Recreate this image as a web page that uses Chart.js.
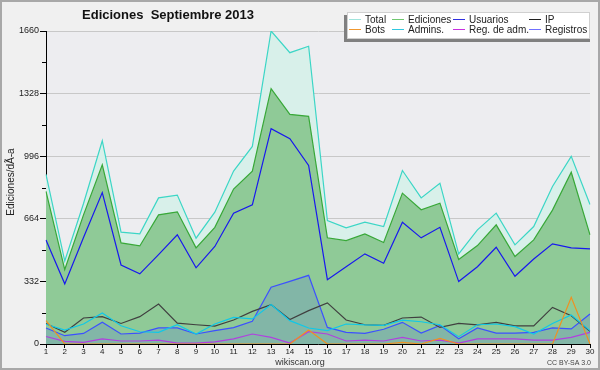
<!DOCTYPE html>
<html>
<head>
<meta charset="utf-8">
<script src="https://cdn.jsdelivr.net/npm/chart.js@4/dist/chart.umd.min.js"></script>
<style>html,body{margin:0;padding:0;background:#f0f0f0;}canvas{display:block;}</style>
</head>
<body>
<canvas id="c" width="600" height="370"></canvas>
<script>
const days = ['1','2','3','4','5','6','7','8','9','10','11','12','13','14','15','16','17','18','19','20','21','22','23','24','25','26','27','28','29','30'];
const total = [900, 440, 745, 1078, 593, 584, 775, 790, 561, 699, 917, 1048, 1660, 1545, 1579, 655, 616, 646, 623, 920, 775, 853, 478, 605, 694, 526, 623, 835, 995, 740];
const ediciones = [810, 395, 685, 950, 536, 520, 685, 701, 510, 619, 822, 917, 1354, 1218, 1207, 563, 548, 584, 538, 800, 712, 747, 448, 522, 632, 464, 552, 710, 911, 579];
const usuarios = [552, 319, 565, 803, 419, 372, 474, 579, 404, 517, 694, 738, 1142, 1089, 947, 341, 410, 478, 428, 646, 563, 619, 331, 410, 513, 359, 451, 531, 510, 504];
const ip = [109, 62, 138, 145, 109, 145, 212, 111, 102, 95, 127, 173, 209, 130, 177, 218, 127, 102, 99, 138, 143, 88, 109, 101, 115, 96, 96, 194, 150, 67];
const admins = [105, 74, 106, 165, 97, 65, 62, 102, 53, 106, 141, 133, 209, 124, 85, 71, 106, 101, 99, 127, 118, 102, 39, 102, 106, 92, 53, 109, 154, 71];
const registros = [85, 44, 56, 115, 53, 58, 85, 85, 53, 71, 87, 120, 301, 332, 364, 88, 62, 56, 78, 115, 58, 99, 28, 85, 58, 58, 62, 85, 80, 159];
const regadm = [40, 14, 9, 27, 16, 16, 21, 5, 5, 11, 27, 53, 35, 5, 65, 53, 16, 21, 16, 35, 16, 21, 5, 27, 27, 27, 21, 21, 35, 62];
const bots = [124, 0, 0, 0, 0, 0, 0, 0, 0, 0, 0, 0, 0, 0, 74, 0, 0, 0, 0, 9, 0, 30, 0, 0, 0, 0, 0, 0, 248, 0];
const yTicks = [0, 332, 664, 996, 1328, 1660];
const yMinorTicks = [166, 498, 830, 1162, 1494];
const titleText = 'Ediciones  Septiembre 2013';
const yTitle = 'Ediciones/dÃ-a';
const legendNames = [['Total','Ediciones','Usuarios','IP'],['Bots','Admins.','Reg. de adm.','Registros']];
const legendColors = [['#a0e4dc','#70c870','#3030e0','#202020'],['#f09830','#30c8e0','#c830e0','#7070ff']];

const FONT = '"Liberation Sans", Arial, sans-serif';

const deco = {
  id: 'deco',
  beforeDraw(chart) {
    const c = chart.ctx, a = chart.chartArea;
    c.save();
    c.fillStyle = '#f0f0f0';
    c.fillRect(0, 0, 600, 370);
    c.fillStyle = '#ededf0';
    c.fillRect(a.left, a.top, a.right - a.left, a.bottom - a.top);
    c.restore();
  },
  afterDraw(chart) {
    const c = chart.ctx, ys = chart.scales.y;
    c.save();
    c.strokeStyle = '#a8a8a8'; c.lineWidth = 2;
    c.strokeRect(1, 1, 598, 368);
    c.strokeStyle = '#000'; c.lineWidth = 1;
    yMinorTicks.forEach(v => {
      const y = Math.round(ys.getPixelForValue(v)) + 0.5;
      c.beginPath(); c.moveTo(42, y); c.lineTo(46, y); c.stroke();
    });
    c.fillStyle = '#111';
    c.font = 'bold 13px ' + FONT;
    c.textAlign = 'center'; c.textBaseline = 'alphabetic';
    c.fillText(titleText, 168, 18.5);
    c.save();
    c.translate(14, 182);
    c.rotate(-Math.PI / 2);
    c.font = '10px ' + FONT;
    c.fillStyle = '#222';
    c.textAlign = 'center';
    c.fillText(yTitle, 0, 0);
    c.restore();
    c.font = '9px ' + FONT; c.fillStyle = '#333'; c.textAlign = 'center';
    c.fillText('wikiscan.org', 300, 365);
    c.font = '7px ' + FONT; c.textAlign = 'right'; c.fillStyle = '#444';
    c.fillText('CC BY-SA 3.0', 591, 365);
    c.fillStyle = '#808080';
    c.fillRect(344, 15, 246, 27);
    c.fillStyle = '#ffffff';
    c.fillRect(347, 12, 243, 27);
    c.strokeStyle = '#d0d0d0'; c.lineWidth = 1;
    c.strokeRect(347.5, 12.5, 242, 26);
    const colX = [349, 392, 453, 529];
    const rowY = [19.5, 29.5];
    c.font = '10px ' + FONT; c.textAlign = 'left'; c.textBaseline = 'middle';
    for (let r = 0; r < 2; r++) {
      for (let k = 0; k < 4; k++) {
        c.strokeStyle = legendColors[r][k]; c.lineWidth = 1;
        c.beginPath(); c.moveTo(colX[k], rowY[r]); c.lineTo(colX[k] + 12, rowY[r]); c.stroke();
        c.fillStyle = '#222';
        c.fillText(legendNames[r][k], colX[k] + 16, rowY[r] + 0.5);
      }
    }
    c.restore();
  }
};

function line(label, data, color, order, fill, bg) {
  return {
    label, data, order,
    borderColor: color,
    backgroundColor: bg || 'transparent',
    borderWidth: 1.2,
    pointRadius: 0,
    tension: 0,
    fill: fill || false
  };
}

new Chart(document.getElementById('c'), {
  type: 'line',
  data: {
    labels: days,
    datasets: [
      line('Total', total, '#3cd6c6', 10, 'origin', '#d8f0ea'),
      line('Ediciones', ediciones, '#38a838', 9, 'origin', '#8fca97'),
      line('Registros', registros, '#3c50ff', 8, 'origin', 'rgba(60,80,255,0.16)'),
      line('Usuarios', usuarios, '#1818ee', 7),
      line('IP', ip, '#404040', 6),
      line('Admins.', admins, '#10c8e8', 5),
      line('Reg. de adm.', regadm, '#b040e0', 4),
      line('Bots', bots, '#f09020', 3)
    ]
  },
  options: {
    responsive: false,
    animation: false,
    devicePixelRatio: 1,
    layout: { padding: { top: 31, right: 10, left: 0, bottom: 0 } },
    plugins: { legend: { display: false }, tooltip: { enabled: false }, title: { display: false } },
    scales: {
      x: {
        offset: false,
        grid: { drawOnChartArea: false, color: '#000', tickLength: 4, offset: false },
        border: { color: '#000', width: 1 },
        ticks: { font: { family: FONT, size: 8 }, color: '#222', padding: -1, maxRotation: 0, autoSkip: false },
        afterFit(s) { s.height = 26; }
      },
      y: {
        min: 0, max: 1660,
        afterBuildTicks(s) { s.ticks = yTicks.map(v => ({ value: v })); },
        grid: { color: '#c8c8c8', tickColor: '#000', tickLength: 6 },
        border: { color: '#000', width: 1 },
        ticks: { font: { family: FONT, size: 9 }, color: '#222', padding: 1, callback: v => String(v) },
        afterFit(s) { s.width = 46; }
      }
    }
  },
  plugins: [deco]
});
</script>
</body>
</html>
